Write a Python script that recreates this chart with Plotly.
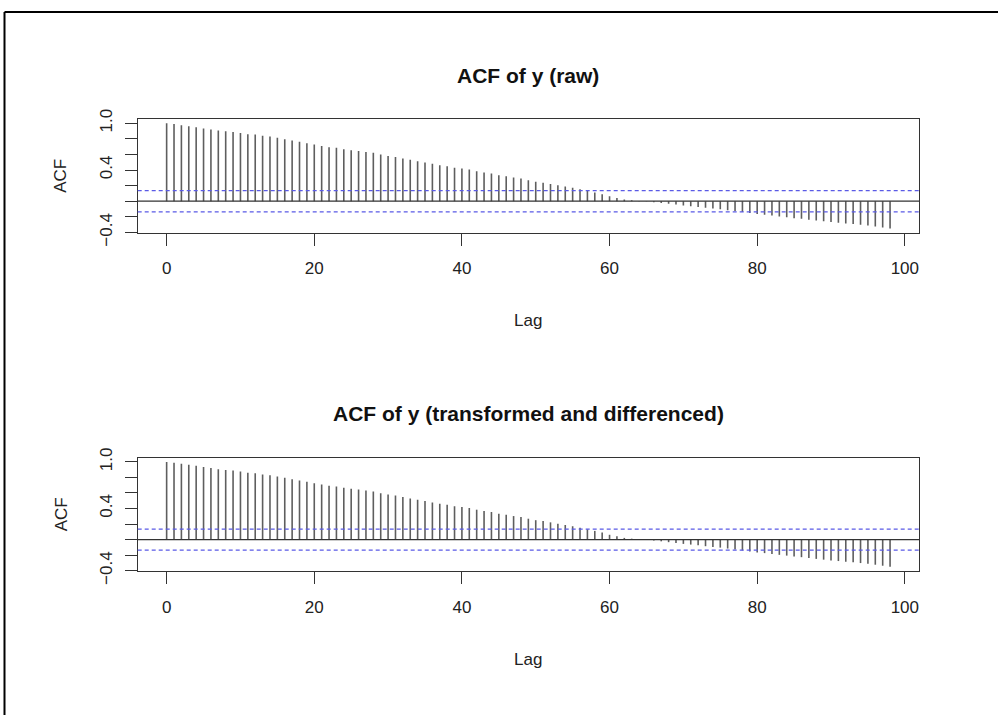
import plotly.graph_objects as go

# ---- data ----
lags = list(range(0, 99))

acf_raw = [
    1.000, 0.990, 0.975, 0.962, 0.949, 0.933, 0.920, 0.906, 0.897, 0.888,
    0.876, 0.860, 0.854, 0.838, 0.829, 0.812, 0.795, 0.778, 0.761, 0.744,
    0.726, 0.709, 0.692, 0.684, 0.667, 0.654, 0.645, 0.632, 0.620, 0.598,
    0.581, 0.568, 0.547, 0.530, 0.513, 0.496, 0.479, 0.462, 0.449, 0.430,
    0.419, 0.406, 0.385, 0.368, 0.355, 0.333, 0.320, 0.303, 0.291, 0.269,
    0.250, 0.238, 0.222, 0.205, 0.188, 0.172, 0.152, 0.133, 0.112, 0.090,
    0.062, 0.042, 0.022, 0.012, 0.004, -0.004, -0.012, -0.022, -0.033, -0.043,
    -0.055, -0.064, -0.074, -0.085, -0.094, -0.103, -0.115, -0.127, -0.140, -0.152,
    -0.165, -0.174, -0.184, -0.196, -0.206, -0.218, -0.226, -0.237, -0.248, -0.258,
    -0.268, -0.276, -0.285, -0.293, -0.302, -0.312, -0.323, -0.336, -0.350,
]

acf_transformed = [
    1.000, 0.990, 0.975, 0.962, 0.949, 0.933, 0.920, 0.906, 0.897, 0.888,
    0.876, 0.860, 0.854, 0.838, 0.829, 0.812, 0.795, 0.778, 0.761, 0.744,
    0.726, 0.709, 0.692, 0.684, 0.667, 0.654, 0.645, 0.632, 0.620, 0.598,
    0.581, 0.568, 0.547, 0.530, 0.513, 0.496, 0.479, 0.462, 0.449, 0.430,
    0.419, 0.406, 0.385, 0.368, 0.355, 0.333, 0.320, 0.303, 0.291, 0.269,
    0.250, 0.238, 0.222, 0.205, 0.188, 0.172, 0.152, 0.133, 0.112, 0.090,
    0.062, 0.042, 0.022, 0.012, 0.004, -0.004, -0.012, -0.022, -0.033, -0.043,
    -0.055, -0.064, -0.074, -0.085, -0.094, -0.103, -0.115, -0.127, -0.140, -0.152,
    -0.165, -0.174, -0.184, -0.196, -0.206, -0.218, -0.226, -0.237, -0.248, -0.258,
    -0.268, -0.276, -0.285, -0.293, -0.302, -0.312, -0.323, -0.336, -0.350,
]

conf_limit = 0.136

titles = ["ACF of y (raw)", "ACF of y (transformed and differenced)"]
x_label = "Lag"
y_label = "ACF"

x_tickvals = [0, 20, 40, 60, 80, 100]
x_ticktext = ["0", "20", "40", "60", "80", "100"]
y_tickvals = [-0.4, -0.2, 0.0, 0.2, 0.4, 0.6, 0.8, 1.0]
y_ticktext = ["\u22120.4", "", "", "", "0.4", "", "", "1.0"]

# ---- figure ----
W, H = 998, 715
FONT = "Liberation Sans, Arial, Helvetica, sans-serif"
fig = go.Figure()


def spikes(xs, ys):
    px, py = [], []
    for a, b in zip(xs, ys):
        px += [a, a, None]
        py += [0, b, None]
    return px, py


series = [acf_raw, acf_transformed]
# panel boxes in pixels (left, top, right, bottom)
boxes = [(137.7, 119.0, 919.0, 232.7), (137.7, 457.7, 919.0, 571.0)]

for i, (vals, box) in enumerate(zip(series, boxes)):
    xa = "x" if i == 0 else "x2"
    ya = "y" if i == 0 else "y2"
    px, py = spikes(lags, vals)
    fig.add_trace(go.Scatter(x=px, y=py, mode="lines", xaxis=xa, yaxis=ya,
                             line=dict(color="#5e5e5e", width=1.6),
                             hoverinfo="skip", showlegend=False))
    # zero line
    fig.add_shape(type="line", xref=f"{xa} domain", yref=ya, x0=0, x1=1,
                  y0=0, y1=0, line=dict(color="#333333", width=1.3))
    for c in (conf_limit, -conf_limit):
        fig.add_shape(type="line", xref=f"{xa} domain", yref=ya, x0=0, x1=1,
                      y0=c, y1=c, line=dict(color="#5a5ae6", width=1.3, dash="4px,3px"))

    l, t, r, b = box
    xdom = [l / W, r / W]
    ydom = [1 - b / H, 1 - t / H]
    axis_common = dict(showline=True, mirror=True, linecolor="#333333", linewidth=1.2,
                       showgrid=False, zeroline=False, ticks="outside", ticklen=12,
                       tickwidth=1, tickcolor="#333333", automargin=False,
                       tickfont=dict(family=FONT, size=17, color="#222222"))
    xkey = "xaxis" if i == 0 else "xaxis2"
    ykey = "yaxis" if i == 0 else "yaxis2"
    fig.update_layout(**{
        xkey: dict(domain=xdom, anchor=ya, range=[-3.92, 101.92],
                   tickvals=x_tickvals, ticktext=x_ticktext,
                   ticklabelstandoff=8, **axis_common),
        ykey: dict(domain=ydom, anchor=xa, range=[-0.404, 1.054],
                   tickvals=y_tickvals, ticktext=y_ticktext, tickangle=-90,
                   ticklabelstandoff=6, **axis_common),
    })

    cx = (l + r) / 2
    # title
    fig.add_annotation(text=f"<b>{titles[i]}</b>", xref="paper", yref="paper",
                       x=cx / W, y=1 - (t - 44) / H, showarrow=False,
                       xanchor="center", yanchor="middle",
                       font=dict(family=FONT, size=21, color="#111111"))
    # x label
    fig.add_annotation(text=x_label, xref="paper", yref="paper",
                       x=cx / W, y=1 - (b + 88) / H, showarrow=False,
                       xanchor="center", yanchor="middle",
                       font=dict(family=FONT, size=17, color="#222222"))
    # y label
    fig.add_annotation(text=y_label, xref="paper", yref="paper",
                       x=61 / W, y=1 - ((t + b) / 2) / H, showarrow=False,
                       xanchor="center", yanchor="middle", textangle=-90,
                       font=dict(family=FONT, size=17, color="#222222"))

# frame lines (top and left) of the original screenshot
fig.add_shape(type="line", xref="paper", yref="paper", x0=4.5 / W, x1=1,
              y0=1 - 12 / H, y1=1 - 12 / H, line=dict(color="black", width=2))
fig.add_shape(type="line", xref="paper", yref="paper", x0=4.5 / W, x1=4.5 / W,
              y0=0, y1=1 - 12 / H, line=dict(color="black", width=2))

fig.update_layout(width=W, height=H, margin=dict(l=0, r=0, t=0, b=0, pad=0, autoexpand=False),
                  paper_bgcolor="white", plot_bgcolor="white", showlegend=False)

fig.write_html("out.html",
               config={"displayModeBar": False, "staticPlot": True},
               post_script="document.body.style.margin='0';document.body.style.overflow='hidden';")
